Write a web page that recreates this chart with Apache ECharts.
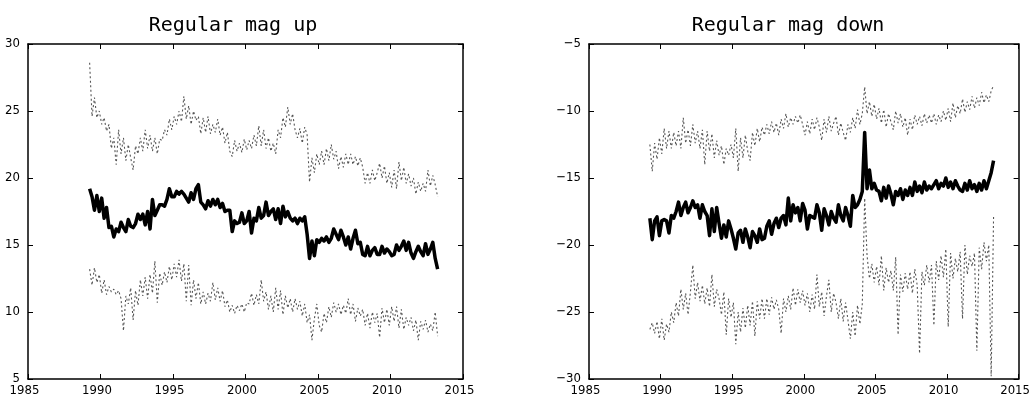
<!DOCTYPE html>
<html>
<head>
<meta charset="utf-8">
<title>Regular mag up / down</title>
<script src="https://cdn.jsdelivr.net/npm/echarts@6/dist/echarts.min.js"></script>
<style>
  html, body { margin: 0; padding: 0; background: #fff; }
  #chart { width: 1033px; height: 398px; }
</style>
</head>
<body>
<div id="chart"></div>
<script>
// Bimonthly samples starting at 1989.25 (six per year, 145 in total).
const START_YEAR = 1989.25;
const SAMPLES_PER_YEAR = 6;

// Axis ticks
const xTicks = [1985, 1990, 1995, 2000, 2005, 2010, 2015];
const upTicks = [5, 10, 15, 20, 25, 30];
const downTicks = [-30, -25, -20, -15, -10, -5];

// Panel titles
const titles = ['Regular mag up', 'Regular mag down'];

// Regular mag up: mean (solid) and upper/lower bounds (dotted)
const upMean = [
  19.2, 18.6, 17.6, 18.7, 17.5, 18.5,
  17.0, 17.8, 16.3, 16.4, 15.6, 16.2,
  16.0, 16.7, 16.3, 16.0, 16.9, 16.4,
  16.3, 16.6, 17.3, 16.9, 17.3, 16.5,
  17.5, 16.2, 18.4, 17.2, 17.6, 18.0,
  18.0, 17.9, 18.4, 19.2, 18.6, 18.6,
  19.0, 18.8, 19.0, 18.8, 18.5, 18.2,
  18.9, 18.4, 19.2, 19.5, 18.2, 18.0,
  17.7, 18.3, 17.9, 18.4, 18.0, 18.4,
  17.8, 18.1, 17.5, 17.6, 17.6, 16.0,
  16.8, 16.6, 16.7, 17.4, 16.6, 16.8,
  17.5, 15.9, 17.0, 16.8, 17.8, 17.0,
  17.2, 18.2, 17.2, 17.5, 17.7, 16.9,
  17.7, 16.6, 17.9, 17.1, 17.5, 17.0,
  16.8, 17.0, 16.6, 17.0, 16.8, 17.1,
  15.8, 14.0, 15.3, 14.2, 15.4, 15.2,
  15.5, 15.3, 15.6, 15.2, 15.5, 16.2,
  15.8, 15.4, 16.1, 15.6, 15.0, 15.6,
  14.7, 15.5, 16.1, 15.1, 15.2, 14.3,
  14.2, 14.9, 14.2, 14.6, 14.8, 14.3,
  14.3, 14.9, 14.4, 14.7, 14.5, 14.2,
  14.3, 15.0, 14.6, 14.9, 15.3, 14.6,
  15.2, 14.4, 14.0, 14.5, 14.9, 14.5,
  14.2, 15.1, 14.3, 14.7, 15.2, 14.0,
  13.2
];
const upHigh = [
  28.6, 24.6, 26.0, 24.5, 25.0, 24.0,
  24.5, 23.5, 24.0, 22.2, 23.0, 21.0,
  23.6, 21.8, 23.0, 21.3, 22.5, 21.5,
  20.6, 22.4, 21.8, 23.0, 22.0, 23.6,
  22.2, 23.2, 22.0, 23.0, 21.8, 22.9,
  22.8, 23.6, 23.2, 24.4, 23.6, 24.6,
  24.0, 25.0, 24.2, 26.1, 24.4, 25.4,
  24.0, 25.0, 24.3, 24.6, 23.3, 24.5,
  23.4, 24.6, 23.3, 24.0, 23.4, 24.4,
  23.2, 23.8, 22.6, 23.4, 22.0, 21.6,
  22.8, 22.0, 22.6, 21.9, 22.9, 22.1,
  22.8, 22.2, 23.2, 22.4, 23.9, 22.4,
  23.6, 22.2, 23.0, 22.0, 22.6, 21.8,
  23.6, 23.0, 24.5, 23.8, 25.3, 24.0,
  24.8, 23.6, 23.0, 23.7, 22.6, 23.8,
  23.2, 19.7, 21.5, 20.4, 21.8, 21.0,
  22.0, 21.0, 22.2, 21.3, 22.5, 21.4,
  22.0, 20.7, 21.6, 20.8, 21.8, 21.0,
  21.8, 21.0, 21.6, 20.9, 21.5, 20.8,
  19.6, 20.4, 19.6, 20.6, 19.8, 20.4,
  21.1, 20.0, 20.9, 19.6, 20.4, 19.3,
  20.6, 19.2, 21.2, 19.8, 20.8, 19.6,
  20.3, 19.4, 20.0, 18.8, 19.7, 19.0,
  19.6, 19.0, 20.6, 19.4, 20.2, 19.5,
  18.6
];
const upLow = [
  13.2, 12.0, 13.3, 12.2, 12.8, 11.4,
  12.4, 11.3, 11.9, 11.5, 11.7, 11.3,
  11.6, 11.0, 8.6, 11.2, 10.6, 11.8,
  9.4, 11.6, 10.5, 12.4, 11.2, 12.6,
  11.0, 12.8, 11.4, 13.8, 10.7, 12.9,
  12.0, 13.0, 12.2, 13.4, 12.4, 13.6,
  12.6, 13.9, 12.3, 13.6, 10.8, 13.5,
  10.5, 12.4, 11.0, 12.2, 10.6, 11.5,
  10.6, 11.4, 10.8, 12.2, 10.9, 11.8,
  10.8, 11.6, 10.4, 10.9, 10.0, 10.5,
  9.9, 10.5, 10.1, 10.6, 10.0, 10.7,
  10.6, 11.4, 10.5, 11.3, 10.6, 12.4,
  10.8, 11.5, 10.2, 11.2, 10.0, 11.8,
  10.2, 11.6, 9.8, 11.2, 10.3, 11.0,
  10.0, 11.0, 10.2, 10.8, 9.7, 10.6,
  9.2, 9.8, 7.9, 9.5, 10.6, 9.0,
  8.5, 9.9, 9.2, 10.4, 9.6, 10.7,
  10.0, 10.6, 9.8, 10.5, 9.9, 11.0,
  9.8, 10.6, 9.3, 10.3, 9.7, 10.2,
  9.0, 9.9, 8.8, 10.0, 9.2, 9.9,
  8.1, 10.3, 9.2, 10.2, 9.0, 10.4,
  9.3, 10.4, 8.8, 10.2, 8.7, 9.6,
  9.0, 9.6, 8.6, 9.4, 7.9, 9.3,
  8.7, 9.4, 8.5, 9.1, 8.6, 10.0,
  8.2
];

// Regular mag down: mean (solid) and upper/lower bounds (dotted)
const downMean = [
  -18.0, -19.6, -18.2, -17.9, -19.3, -18.2,
  -18.1, -18.2, -19.1, -17.8, -18.0, -17.5,
  -16.8, -17.8, -17.2, -16.8, -17.6, -17.2,
  -16.7, -17.2, -17.0, -18.0, -17.0, -17.5,
  -17.8, -19.3, -17.3, -19.0, -17.2, -18.4,
  -19.5, -18.5, -19.4, -18.2, -18.8, -19.5,
  -20.3, -19.1, -18.9, -19.8, -18.8, -19.4,
  -20.2, -19.0, -19.3, -19.8, -18.8, -19.6,
  -19.5, -18.6, -18.2, -19.2, -18.4, -18.0,
  -18.7, -18.0, -17.8, -18.5, -16.5, -18.2,
  -17.0, -17.6, -17.2, -18.2, -16.9, -17.4,
  -18.8, -17.8, -17.9, -18.0, -17.0, -17.6,
  -18.9, -17.3, -17.8, -18.5, -17.5, -18.0,
  -18.3, -17.0, -17.8, -18.2, -17.2, -17.8,
  -18.6, -16.3, -17.2, -17.0, -16.6, -16.0,
  -11.6, -15.8, -14.4, -15.8, -15.4, -15.9,
  -16.0, -16.7, -15.7, -16.5, -15.6, -16.2,
  -17.0, -16.0, -16.3, -15.8, -16.6, -15.9,
  -16.3, -15.7, -16.3, -15.3, -16.0, -15.6,
  -16.1, -15.3, -15.9, -15.6, -15.8, -15.5,
  -15.2, -15.8, -15.4, -15.6, -15.0, -15.7,
  -15.3, -15.8, -15.2, -15.6, -15.9, -16.0,
  -15.4, -15.9, -15.2, -15.8, -15.5, -16.0,
  -15.4, -15.9, -15.2, -15.8, -15.2, -14.6,
  -13.7
];
const downHigh = [
  -12.5, -14.5, -12.4, -13.6, -12.0, -13.2,
  -11.3, -12.8, -11.5, -12.8, -11.6, -12.6,
  -11.5, -12.8, -10.5, -12.4, -11.4, -12.6,
  -11.0, -12.4, -11.5, -12.8, -11.4, -14.0,
  -11.5, -13.0, -11.7, -13.5, -12.2, -13.3,
  -12.6, -14.0, -12.8, -13.3, -12.5, -13.5,
  -11.3, -14.5, -12.0, -13.5, -11.8, -13.0,
  -13.7, -11.6, -12.6, -11.3, -12.3, -11.2,
  -11.8, -11.0, -11.7, -10.8, -11.6, -10.9,
  -11.8, -10.6, -11.3, -10.2, -11.2, -10.5,
  -11.0, -10.4, -10.9, -10.3, -11.0, -11.8,
  -10.8, -11.7, -10.6, -11.4, -10.5, -11.2,
  -12.2, -10.6, -11.6, -10.4, -11.5, -10.9,
  -10.4, -11.8, -10.9, -11.6, -12.2, -11.0,
  -11.6, -10.5, -11.3, -9.9, -11.0, -10.2,
  -8.2, -10.2, -9.3, -10.4, -9.5, -10.6,
  -9.8, -10.9, -9.9, -11.2, -10.2, -10.8,
  -11.4, -10.0, -10.9, -10.2, -11.2, -10.5,
  -11.8, -10.6, -11.4, -10.3, -11.0, -10.4,
  -11.1, -10.2, -10.9, -10.3, -10.9, -10.2,
  -11.0, -10.3, -10.8, -10.0, -10.7, -9.8,
  -10.8, -9.4, -10.5, -9.6, -10.2, -9.1,
  -10.1, -9.3, -9.9, -8.9, -9.8, -9.0,
  -9.6, -8.6, -9.4, -8.8, -9.3, -8.5,
  -8.1
];
const downLow = [
  -26.3, -25.8, -26.6, -25.7, -27.0, -25.5,
  -27.1, -25.9, -26.5, -25.0, -25.8, -24.3,
  -25.3, -23.3, -24.8, -23.6, -25.2, -23.5,
  -21.5, -24.0, -22.8, -24.2, -23.0, -24.4,
  -23.2, -24.6, -22.2, -24.6, -23.3, -24.0,
  -25.2, -23.5, -26.7, -24.0, -25.4, -24.3,
  -27.4, -25.0, -26.5, -24.7, -26.2, -24.5,
  -26.0, -24.2, -26.8, -24.2, -25.5, -24.0,
  -25.5, -24.0, -25.2, -23.9, -24.8, -24.1,
  -24.8, -26.6, -24.0, -25.0, -23.8, -24.8,
  -23.2, -24.5, -23.3, -24.3, -23.4, -24.5,
  -23.6, -25.0, -23.7, -24.8, -22.2, -24.6,
  -23.5, -25.3, -23.8, -22.6, -25.0, -23.6,
  -24.3, -25.5, -24.0, -25.7, -24.3, -25.6,
  -27.0, -25.0, -26.8, -24.5, -25.9, -24.4,
  -16.5, -20.8, -22.5, -21.4, -22.8, -21.6,
  -23.0, -20.8, -23.4, -21.7, -22.8, -21.9,
  -23.4, -20.9, -26.7, -22.2, -23.5, -22.1,
  -23.3, -22.0, -23.6, -21.8, -23.0, -28.1,
  -22.0, -23.0, -21.5, -22.8, -21.5, -26.0,
  -21.2, -22.6, -20.8, -22.4, -20.3, -26.1,
  -20.6, -22.5, -21.0, -22.0, -20.5, -25.5,
  -20.0, -22.2, -20.8, -21.6, -20.6, -27.9,
  -20.2, -21.8, -19.8, -21.2, -20.0, -29.8,
  -17.9
];

// Pair each value with its decimal year.
function withYears(values) {
  return values.map((v, k) => [START_YEAR + k / SAMPLES_PER_YEAR, v]);
}

const labelFont = {
  fontFamily: '"Liberation Sans Narrow", "DejaVu Sans Condensed", "Liberation Sans", sans-serif',
  fontSize: 13,
  color: '#000'
};
const minusFormat = v => (v < 0 ? '\u2212' + Math.abs(v) : String(v));

const frameLine = { show: true, onZero: false, lineStyle: { color: '#000', width: 1.5 } };
const innerTick = { show: true, inside: true, length: 5, lineStyle: { color: '#000', width: 1 } };

function xAxes(gridIndex) {
  const base = {
    type: 'value', gridIndex,
    min: xTicks[0], max: xTicks[xTicks.length - 1], interval: 5,
    splitLine: { show: false }, axisLine: frameLine, axisTick: innerTick
  };
  return [
    Object.assign({}, base, { position: 'bottom',
      axisLabel: Object.assign({}, labelFont, { margin: 5, padding: [0, 7, 0, 0], formatter: v => String(v) }) }),
    Object.assign({}, base, { position: 'top', axisLabel: { show: false } })
  ];
}
function yAxes(gridIndex, ticks) {
  const base = {
    type: 'value', gridIndex,
    min: ticks[0], max: ticks[ticks.length - 1], interval: 5,
    splitLine: { show: false }, axisLine: frameLine, axisTick: innerTick
  };
  return [
    Object.assign({}, base, { position: 'left',
      axisLabel: Object.assign({}, labelFont, { margin: 8, formatter: minusFormat }) }),
    Object.assign({}, base, { position: 'right', axisLabel: { show: false } })
  ];
}

function bandSeries(values, xIdx, yIdx) {
  return {
    type: 'line', xAxisIndex: xIdx, yAxisIndex: yIdx,
    data: withYears(values), showSymbol: false, silent: true, animation: false,
    lineStyle: { color: '#555', width: 1.1, type: [2, 2.5] }
  };
}
function meanSeries(values, xIdx, yIdx) {
  return {
    type: 'line', xAxisIndex: xIdx, yAxisIndex: yIdx,
    data: withYears(values), showSymbol: false, silent: true, animation: false,
    lineStyle: { color: '#000', width: 3.5, join: 'round' }
  };
}

const titleStyle = { fontFamily: '"DejaVu Sans Mono", monospace', fontSize: 20, fontWeight: 'normal', color: '#000' };

const chart = echarts.init(document.getElementById('chart'), null, { renderer: 'canvas' });
chart.setOption({
  backgroundColor: '#fff',
  animation: false,
  title: [
    { text: titles[0], left: 228, top: 11, textAlign: 'center', textStyle: titleStyle },
    { text: titles[1], left: 783, top: 11, textAlign: 'center', textStyle: titleStyle }
  ],
  grid: [
    { left: 28, right: 570, top: 44, bottom: 19 },
    { left: 589, right: 10, top: 44, bottom: 19 }
  ],
  xAxis: [...xAxes(0), ...xAxes(1)],
  yAxis: [...yAxes(0, upTicks), ...yAxes(1, downTicks)],
  series: [
    bandSeries(upHigh, 0, 0),
    bandSeries(upLow, 0, 0),
    meanSeries(upMean, 0, 0),
    bandSeries(downHigh, 2, 2),
    bandSeries(downLow, 2, 2),
    meanSeries(downMean, 2, 2)
  ]
});
</script>
</body>
</html>
